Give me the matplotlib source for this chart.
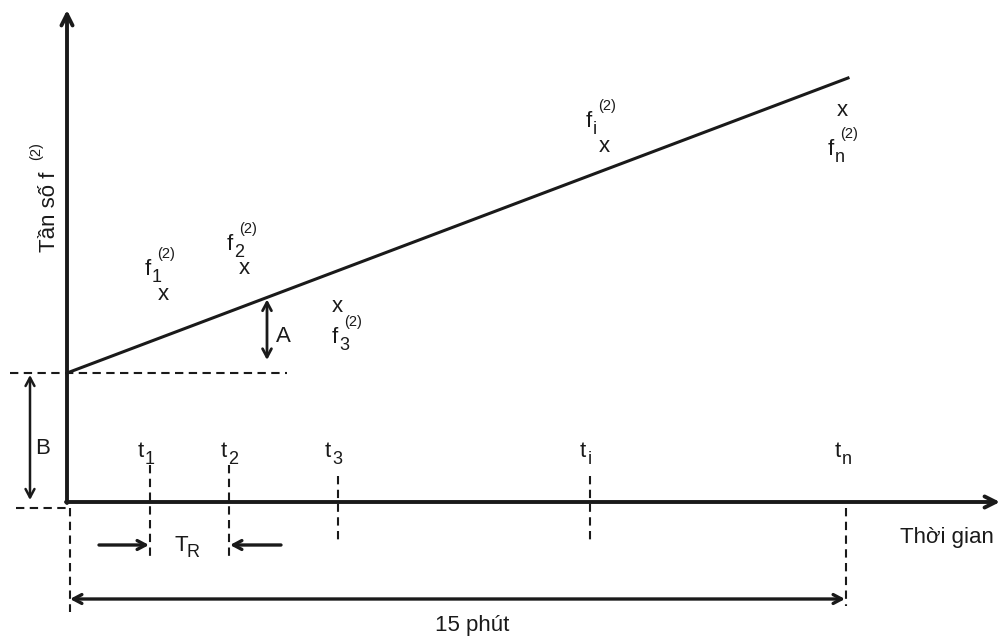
import matplotlib
matplotlib.use("Agg")
import matplotlib.pyplot as plt

plt.rcParams["font.family"] = ["Liberation Sans", "DejaVu Sans"]

# ── Diagram geometry (drawing units = pixels, y grows downward) ─────────────
ORIGIN = (67, 502)
X_END = 1000
Y_END = 10
LINE_START = (67, 373)        # intercept B
LINE_END = (848, 78)

# measurement instants t1, t2, t3, ti, tn
T_POS = [150, 229, 338, 590, 846]
T_SUBS = ["1", "2", "3", "i", "n"]
T_TEXT_X = [138, 221, 325, 580, 835]
T_SUB_DX = [7, 7, 7, 8, 7]
T_DASH_TOP = [465, 465, 476, 476, 508]
T_DASH_BOT = [558, 558, 543, 543, 606]

# measured frequencies f_k^(2): marker centre and label baseline
PT_X = [163, 244, 337, 604, 842]
PT_Y = [294, 269, 306, 146, 111]
PT_SUBS = ["1", "2", "3", "i", "n"]
LBL_X = [145, 227, 332, 586, 828]
LBL_Y = [275, 250, 343, 127, 155]

A_X = 267
B_X = 30
TR_Y = 545
SPAN_Y = 599
FS = 16
FS_SUB = 13
FS_SUP = 10.5

fig = plt.figure(figsize=(10.02, 6.41), dpi=100)
ax = fig.add_axes([0, 0, 1, 1])
ax.set_xlim(0, 1002)
ax.set_ylim(641, 0)
ax.axis("off")

k = "#1a1a1a"


def arrow(x0, y0, x1, y1, style="->", lw=2.2, hl=0.6, hw=0.32):
    ax.annotate("", xy=(x1, y1), xytext=(x0, y0),
                arrowprops=dict(arrowstyle=f"{style},head_length={hl},head_width={hw}",
                                color=k, lw=lw, shrinkA=0, shrinkB=0))


def dashed(xs, ys):
    ax.plot(xs, ys, color=k, lw=1.5, ls=(0, (4, 2.6)), solid_capstyle="butt")


def symbol(x, y, base, sub=None, sup=None, sub_dx=8, sub_dy=7, sup_dx=13, sup_dy=-17):
    """Base letter with subscript and a raised '(2)' set further right."""
    ax.text(x, y, base, fontsize=FS, va="baseline", ha="left", color=k)
    if sub:
        ax.text(x + sub_dx, y + sub_dy, sub, fontsize=FS_SUB, va="baseline", ha="left", color=k)
    if sup:
        ax.text(x + sup_dx, y + sup_dy, sup, fontsize=FS_SUP, va="baseline", ha="left", color=k)


# axes
arrow(ORIGIN[0], ORIGIN[1] + 1, ORIGIN[0], Y_END, lw=2.8, hl=0.8, hw=0.4)
arrow(ORIGIN[0] - 1, ORIGIN[1], X_END, ORIGIN[1], lw=2.8, hl=0.8, hw=0.4)

# regression line f = A*t + B
ax.plot([LINE_START[0], LINE_END[0]], [LINE_START[1], LINE_END[1]], color=k, lw=2.2)

# intercept guide and B
dashed([10, 287], [LINE_START[1], LINE_START[1]])
arrow(B_X, LINE_START[1] + 2, B_X, ORIGIN[1] - 2, style="<->", lw=1.8)
ax.text(43, 448, "B", fontsize=FS, va="center", ha="center", color=k)

# slope A
slope = (LINE_END[1] - LINE_START[1]) / (LINE_END[0] - LINE_START[0])
a_top = LINE_START[1] + slope * (A_X - LINE_START[0])
arrow(A_X, a_top + 2, A_X, 360, style="<->", lw=2.0)
ax.text(283, 336, "A", fontsize=FS, va="center", ha="center", color=k)

# origin offsets
dashed([16, 70], [508, 508])
dashed([70, 70], [508, 612])

# time instants
for x, sub, tx, sdx, top, bot in zip(T_POS, T_SUBS, T_TEXT_X, T_SUB_DX, T_DASH_TOP, T_DASH_BOT):
    dashed([x, x], [top, bot])
    symbol(tx, 457, "t", sub, sub_dx=sdx, sub_dy=7)

# measured points
for x, y, sub, lx, ly in zip(PT_X, PT_Y, PT_SUBS, LBL_X, LBL_Y):
    ax.text(x, y, "x", fontsize=FS, va="center", ha="center", color=k)
    symbol(lx, ly, "f", sub, "(2)", sub_dx=7, sub_dy=7, sup_dx=12, sup_dy=-17)

# repetition period T_R
arrow(99, TR_Y, T_POS[0] - 1, TR_Y, lw=2.4)
arrow(281, TR_Y, T_POS[1] + 1, TR_Y, lw=2.4)
symbol(175, 551, "T", "R", sub_dx=12, sub_dy=6)

# 15 minute span
arrow(70, SPAN_Y, T_POS[-1] - 1, SPAN_Y, style="<->", lw=2.4)
ax.text(472, 626, "15 phút", fontsize=FS, va="center", ha="center", color=k)

ax.text(900, 538, "Thời gian", fontsize=FS, va="center", ha="left", color=k)
ax.text(50, 212, "Tần số f", fontsize=FS, rotation=90, va="center", ha="center", color=k)
ax.text(36, 151, "(2)", fontsize=FS_SUP, rotation=90, va="center", ha="center", color=k)

fig.savefig("out.png", dpi=100)
